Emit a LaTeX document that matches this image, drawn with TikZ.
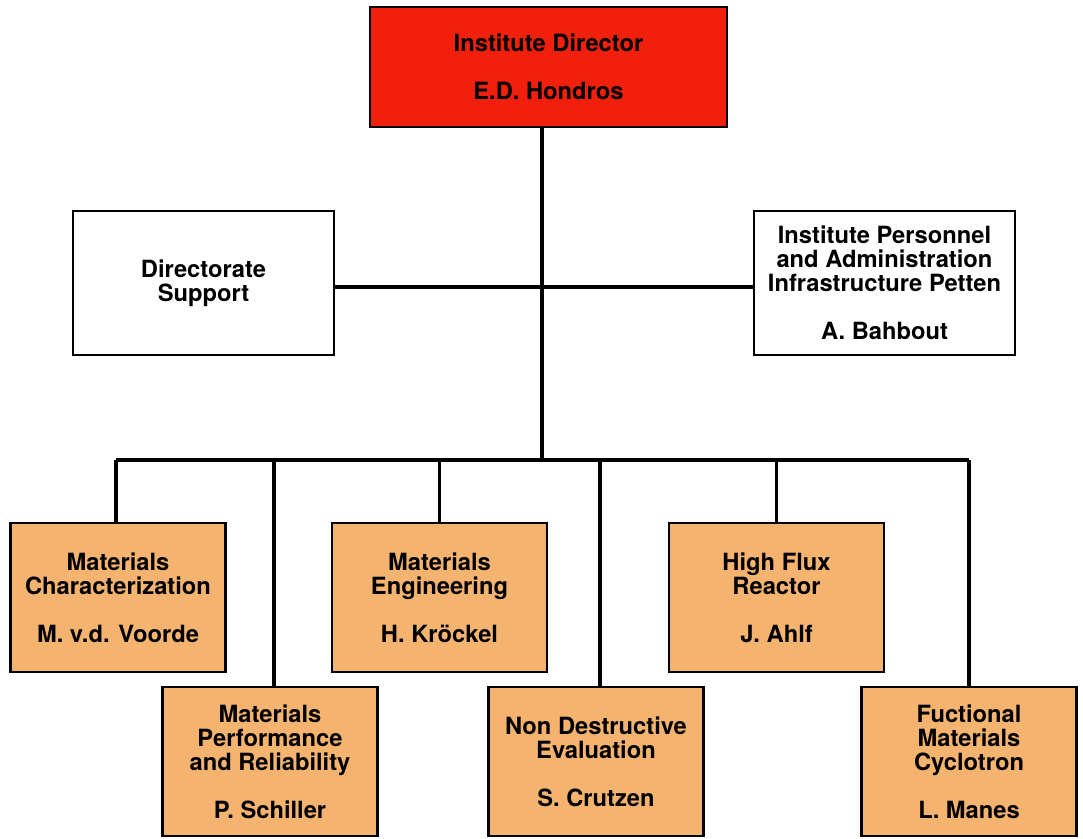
\documentclass[tikz,border=0pt]{standalone}
\usepackage{fontspec}
\setmainfont{TeX Gyre Heros}
\usepackage{tikz}
\usetikzlibrary{positioning}
\usepackage{xcolor}
\definecolor{orgred}{RGB}{240,32,12}
\definecolor{orgorange}{RGB}{244,180,112}
\tikzstyle{link} = [line width=1.8pt, color=black]
\tikzstyle{unit} = [rectangle, draw=black, line width=1.2pt, align=center, font=\bfseries\fontsize{13.5}{13.6}\selectfont, inner sep=2pt]
\tikzstyle{division} = [unit, fill=orgorange, minimum width=4.3cm, minimum height=2.98cm]

\begin{document}
\begin{tikzpicture}
\useasboundingbox (0,0) rectangle (21.66,-16.76);

% Directorate
\node[unit, fill=orgred, minimum width=7.14cm, minimum height=2.4cm] (director) at (10.97,-1.34) {Institute Director\\[13.6pt]E.D. Hondros};
\node[unit, fill=white, minimum width=5.22cm, minimum height=2.88cm] (support) at (4.07,-5.66) {Directorate\\Support};
\node[unit, fill=white, minimum width=5.22cm, minimum height=2.88cm] (personnel) at (17.69,-5.66) {Institute Personnel\\and Administration\\Infrastructure Petten\\[13.6pt]A. Bahbout};

% Units, upper row
\node[division] (matchar) at (2.36,-11.95) {Materials\\Characterization\\[13.6pt]M. v.d. Voorde};
\node[division] (mateng) at (8.79,-11.95) {Materials\\Engineering\\[13.6pt]H. Kr\"ockel};
\node[division] (hfr) at (15.53,-11.95) {High Flux\\Reactor\\[13.6pt]J. Ahlf};

% Units, lower row
\node[division] (matperf) at (5.40,-15.23) {Materials\\Performance\\and Reliability\\[13.6pt]P. Schiller};
\node[division] (nde) at (11.92,-15.23) {Non Destructive\\Evaluation\\[13.6pt]S. Crutzen};
\node[division] (fmc) at (19.38,-15.23) {Fuctional\\Materials\\Cyclotron\\[13.6pt]L. Manes};

% Trunk and bus
\coordinate (trunk) at (10.84,-9.2);
\draw[link] (trunk |- director.south) -- (trunk);
\draw[link] ([yshift=-0.08cm]support.east) -- ([yshift=-0.08cm]personnel.west);
\draw[link] ([xshift=-0.04cm]matchar.north |- trunk) -- (fmc.north |- trunk);

% Drops to units
\draw[link] ([xshift=-0.04cm]matchar.north) -- ([xshift=-0.04cm]matchar.north |- trunk);
\draw[link] ([xshift=0.08cm]matperf.north) -- ([xshift=0.08cm]matperf.north |- trunk);
\draw[link] (mateng.north) -- (mateng.north |- trunk);
\draw[link] ([xshift=0.08cm]nde.north) -- ([xshift=0.08cm]nde.north |- trunk);
\draw[link] (hfr.north) -- (hfr.north |- trunk);
\draw[link] (fmc.north) -- (fmc.north |- trunk);
\end{tikzpicture}
\end{document}
